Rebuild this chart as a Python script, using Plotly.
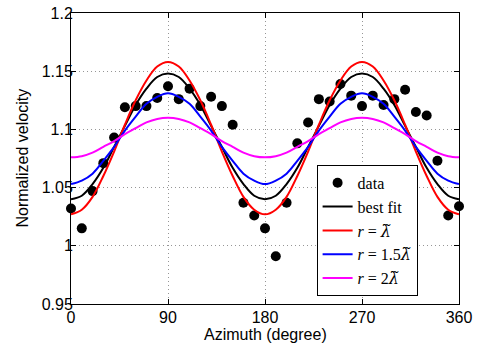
import plotly.graph_objects as go

azimuth = list(range(0, 361, 10))

data_vals = [1.032, 1.015, 1.047, 1.071, 1.093, 1.119, 1.120, 1.120, 1.127, 1.137,
             1.126, 1.135, 1.120, 1.128, 1.120, 1.104, 1.037, 1.026, 1.015, 0.991,
             1.037, 1.088, 1.106, 1.126, 1.124, 1.139, 1.129, 1.120, 1.129, 1.121,
             1.126, 1.134, 1.115, 1.112, 1.073, 1.026, 1.034]

best_fit = [1.040, 1.043, 1.053, 1.067, 1.085, 1.103, 1.121, 1.135, 1.145, 1.148,
            1.145, 1.135, 1.121, 1.103, 1.085, 1.067, 1.053, 1.043, 1.040,
            1.043, 1.053, 1.067, 1.085, 1.103, 1.121, 1.135, 1.145, 1.148,
            1.145, 1.135, 1.121, 1.103, 1.085, 1.067, 1.053, 1.043, 1.040]

r_1 = [1.027, 1.031, 1.042, 1.060, 1.081, 1.104, 1.125, 1.142, 1.154, 1.158,
       1.154, 1.142, 1.125, 1.104, 1.081, 1.060, 1.042, 1.031, 1.027,
       1.031, 1.042, 1.060, 1.081, 1.104, 1.125, 1.142, 1.154, 1.158,
       1.154, 1.142, 1.125, 1.104, 1.081, 1.060, 1.042, 1.031, 1.027]

r_15 = [1.053, 1.056, 1.062, 1.073, 1.085, 1.099, 1.111, 1.122, 1.128, 1.131,
        1.128, 1.122, 1.111, 1.099, 1.085, 1.073, 1.062, 1.056, 1.053,
        1.056, 1.062, 1.073, 1.085, 1.099, 1.111, 1.122, 1.128, 1.131,
        1.128, 1.122, 1.111, 1.099, 1.085, 1.073, 1.062, 1.056, 1.053]

r_2 = [1.076, 1.077, 1.080, 1.085, 1.090, 1.096, 1.101, 1.106, 1.109, 1.110,
       1.109, 1.106, 1.101, 1.096, 1.090, 1.085, 1.080, 1.077, 1.076,
       1.077, 1.080, 1.085, 1.090, 1.096, 1.101, 1.106, 1.109, 1.110,
       1.109, 1.106, 1.101, 1.096, 1.090, 1.085, 1.080, 1.077, 1.076]

x_ticks = [0, 90, 180, 270, 360]
y_ticks = [0.95, 1.0, 1.05, 1.1, 1.15, 1.2]
y_tick_labels = ["0.95", "1", "1.05", "1.1", "1.15", "1.2"]

LAM = '<span style="font-family:DejaVu Serif"><i>λ̃</i></span>'
SANS = "Liberation Sans, Arial"

fig = go.Figure()
fig.add_trace(go.Scatter(x=azimuth, y=data_vals, mode="markers", name="data",
                         marker=dict(color="black", size=10), cliponaxis=False))
fig.add_trace(go.Scatter(x=azimuth, y=best_fit, mode="lines", name="best fit",
                         line=dict(color="black", width=2, shape="spline")))
fig.add_trace(go.Scatter(x=azimuth, y=r_1, mode="lines", name="<i>r</i> = " + LAM,
                         line=dict(color="red", width=2, shape="spline")))
fig.add_trace(go.Scatter(x=azimuth, y=r_15, mode="lines", name="<i>r</i> = 1.5" + LAM,
                         line=dict(color="blue", width=2, shape="spline")))
fig.add_trace(go.Scatter(x=azimuth, y=r_2, mode="lines", name="<i>r</i> = 2" + LAM,
                         line=dict(color="magenta", width=2, shape="spline")))

axis_common = dict(showline=True, linecolor="black", linewidth=1, mirror="ticks",
                   ticks="inside", ticklen=5, tickcolor="black", automargin=False,
                   ticklabeloverflow="allow",
                   showgrid=True, gridcolor="rgb(150,150,150)", griddash="1px,3px", gridwidth=1,
                   zeroline=False, tickfont=dict(family=SANS, size=16, color="black"))

fig.update_xaxes(range=[0, 360], tickvals=x_ticks, ticktext=[str(v) for v in x_ticks],
                 ticklabelstandoff=-1, **axis_common)
fig.update_yaxes(range=[0.95, 1.2], tickvals=y_ticks, ticktext=y_tick_labels,
                 ticklabelstandoff=-6, **axis_common)

fig.add_annotation(text="Azimuth (degree)", xref="paper", yref="paper", x=0.5, y=0,
                   xanchor="center", yanchor="middle", yshift=-30, showarrow=False,
                   font=dict(family=SANS, size=16, color="black"))
fig.add_annotation(text="Normalized velocity", xref="paper", yref="paper", x=0, y=0.5,
                   xanchor="center", yanchor="middle", xshift=-49, textangle=-90,
                   showarrow=False, font=dict(family=SANS, size=16, color="black"))

fig.update_layout(
    width=481, height=347,
    margin=dict(l=71, r=22, t=13, b=43),
    paper_bgcolor="white", plot_bgcolor="white",
    showlegend=True,
    legend=dict(x=0.633, y=0.478, xanchor="left", yanchor="top",
                bgcolor="white", bordercolor="black", borderwidth=1,
                font=dict(family="Liberation Serif, Times New Roman, serif", size=16, color="black"),
                itemwidth=30),
)

fig.write_html("out.html", config={"displayModeBar": False},
               post_script="document.body.style.margin='0';")
